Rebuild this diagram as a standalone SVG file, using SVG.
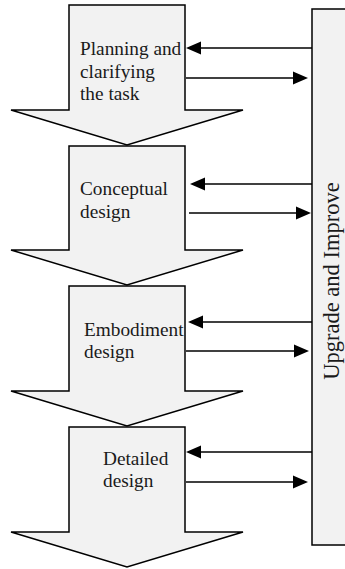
<svg xmlns="http://www.w3.org/2000/svg" width="345" height="569" viewBox="0 0 345 569">
<style>
.stage{fill:#f2f2f2;stroke:#000;stroke-width:1.5;stroke-linejoin:miter}
.lbl{font-family:"Liberation Serif","Times New Roman",serif;font-size:19.3px;fill:#1a1a1a}
.con{stroke:#000;stroke-width:1.4;fill:none}
.head{fill:#000}
</style>
<rect width="345" height="569" fill="#fff"/>
<g id="side">
<rect x="312" y="9" width="40" height="536" class="stage"/>
<text class="lbl" style="font-size:22.5px" transform="translate(339,281) rotate(-90)" text-anchor="middle">Upgrade and Improve</text>
</g>
<g id="stage1">
<polygon class="stage" points="69,5 185,5 185,110 243,110 127,145 11,110 69,110"/>
<text class="lbl" x="80" y="55">Planning and</text>
<text class="lbl" x="80" y="78">clarifying</text>
<text class="lbl" x="80" y="100">the task</text>
</g>
<g id="stage2">
<polygon class="stage" points="69,146 185,146 185,250 243,250 127,285 11,250 69,250"/>
<text class="lbl" x="80" y="195">Conceptual</text>
<text class="lbl" x="80" y="218">design</text>
</g>
<g id="stage3">
<polygon class="stage" points="69,286 185,286 185,391 243,391 127,426 11,391 69,391"/>
<text class="lbl" x="84" y="336">Embodiment</text>
<text class="lbl" x="84" y="358">design</text>
</g>
<g id="stage4">
<polygon class="stage" points="69,427 185,427 185,532 243,532 127,567 11,532 69,532"/>
<text class="lbl" x="103" y="465">Detailed</text>
<text class="lbl" x="103" y="487">design</text>
</g>
<g id="connectors">
<line class="con" x1="312" y1="48" x2="198" y2="48"/>
<polygon class="head" points="186,48 201,41.5 201,54.5"/>
<line class="con" x1="186" y1="78" x2="296" y2="78"/>
<polygon class="head" points="308,78 293,71.5 293,84.5"/>
<line class="con" x1="312" y1="184" x2="202" y2="184"/>
<polygon class="head" points="190,184 205,177.5 205,190.5"/>
<line class="con" x1="189" y1="213" x2="299" y2="213"/>
<polygon class="head" points="311,213 296,206.5 296,219.5"/>
<line class="con" x1="312" y1="322" x2="200" y2="322"/>
<polygon class="head" points="188,322 203,315.5 203,328.5"/>
<line class="con" x1="186" y1="351" x2="297" y2="351"/>
<polygon class="head" points="309,351 294,344.5 294,357.5"/>
<line class="con" x1="312" y1="452" x2="198" y2="452"/>
<polygon class="head" points="186,452 201,445.5 201,458.5"/>
<line class="con" x1="186" y1="482" x2="296" y2="482"/>
<polygon class="head" points="308,482 293,475.5 293,488.5"/>
</g>
</svg>
